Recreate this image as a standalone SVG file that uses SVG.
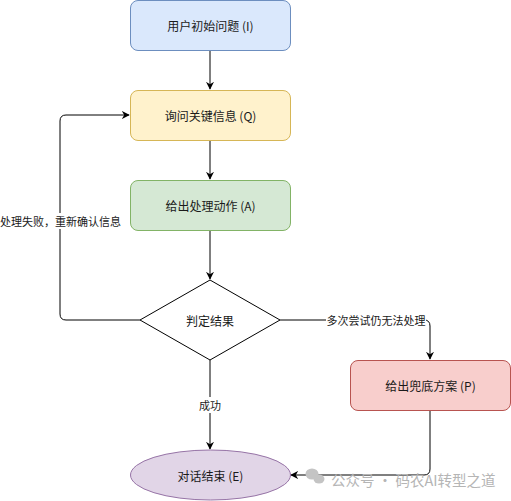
<svg xmlns="http://www.w3.org/2000/svg" width="511" height="501" viewBox="0 0 511 501">
<style>
text{font-family:"Noto Sans CJK SC","Liberation Sans",sans-serif;fill:#1a1a1a}
.n{font-size:12px;text-anchor:middle;dominant-baseline:central}
.l{font-size:11px;text-anchor:middle;dominant-baseline:central}
.e{fill:none;stroke:#000;stroke-width:1}
.wm{font-size:14.5px;fill:#b5b5b5;dominant-baseline:central}
</style>
<defs>
<marker id="a" viewBox="0 0 10 10" refX="9" refY="5" markerWidth="8" markerHeight="8" markerUnits="userSpaceOnUse" orient="auto"><path d="M0,0 L10,5 L0,10 L3,5 Z" fill="#000"/></marker>
</defs>
<rect width="511" height="501" fill="#fff"/>
<g id="connectors">
<path class="e" d="M210,50.5 V89" marker-end="url(#a)"/>
<path class="e" d="M210,140.5 V179" marker-end="url(#a)"/>
<path class="e" d="M210,230.5 V279" marker-end="url(#a)"/>
<path class="e" d="M140,320 H66 Q60,320 60,314 V121 Q60,115 66,115 H129" marker-end="url(#a)"/>
<rect x="0" y="213" width="121" height="16" fill="#fff"/>
<text class="l" x="60.5" y="221">处理失败，重新确认信息</text>
<path class="e" d="M280,320 H424 Q430,320 430,326 V359" marker-end="url(#a)"/>
<rect x="326" y="312" width="100" height="16" fill="#fff"/>
<text class="l" x="376" y="320">多次尝试仍无法处理</text>
<path class="e" d="M210,360 V449" marker-end="url(#a)"/>
<rect x="197" y="397" width="26" height="16" fill="#fff"/>
<text class="l" x="210" y="405">成功</text>
<path class="e" d="M430,410.5 V469 Q430,475 424,475 H291" marker-end="url(#a)"/>
</g>
<g id="nodeI"><rect x="130.5" y="0.5" width="160" height="50" rx="7.5" fill="#dae8fc" stroke="#6c8ebf"/><text class="n" x="210.5" y="25.5">用户初始问题 (I)</text></g>
<g id="nodeQ"><rect x="130.5" y="90.5" width="160" height="50" rx="7.5" fill="#fff2cc" stroke="#d6b656"/><text class="n" x="210.5" y="115.5">询问关键信息 (Q)</text></g>
<g id="nodeA"><rect x="130.5" y="180.5" width="160" height="50" rx="7.5" fill="#d5e8d4" stroke="#82b366"/><text class="n" x="210.5" y="205.5">给出处理动作 (A)</text></g>
<g id="nodeD"><path d="M210,280 L280,320 L210,360 L140,320 Z" fill="#fff" stroke="#000"/><text class="n" x="210" y="320">判定结果</text></g>
<g id="nodeP"><rect x="350.5" y="360.5" width="160" height="50" rx="7.5" fill="#f8cecc" stroke="#b85450"/><text class="n" x="430.5" y="385.5">给出兜底方案 (P)</text></g>
<g id="nodeE"><ellipse cx="210.5" cy="475" rx="80" ry="25" fill="#e1d5e7" stroke="#9673a6"/><text class="n" x="210.5" y="475">对话结束 (E)</text></g>
<g id="watermark">
<ellipse cx="312" cy="474" rx="6.5" ry="5.5" fill="#c4c4c4"/>
<ellipse cx="319" cy="479" rx="5.5" ry="4.5" fill="#c4c4c4"/>
<text class="wm" x="331" y="479">公众号 · 码农AI转型之道</text>
</g>
</svg>
